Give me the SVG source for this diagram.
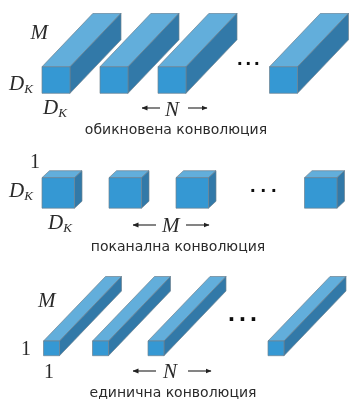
<svg xmlns="http://www.w3.org/2000/svg" width="349" height="401" viewBox="0 0 349 401">
<style>
.f{fill:#3598d3}.t{fill:#62aedb}.s{fill:#3079a8}
.f,.t,.s{stroke:#6f8290;stroke-width:.7;stroke-linejoin:round}
text{fill:#2b2b2b}
.m{font-family:"Liberation Serif",serif;font-style:italic;font-size:21px}
.k{font-family:"Liberation Serif",serif;font-style:italic;font-size:13px}
.n{font-family:"Liberation Serif",serif;font-size:20px}
.c{font-family:"DejaVu Sans",sans-serif;font-size:14px;text-anchor:middle;fill:#2a2a2a}
.d{font-family:"Liberation Sans",sans-serif;font-weight:bold;font-size:20px;letter-spacing:3px;fill:#111}
.a{stroke:#222;stroke-width:1.1;fill:none;marker-end:url(#h)}
</style>
<defs>
<filter id="soft" x="0" y="0" width="100%" height="100%"><feGaussianBlur stdDeviation="0.4"/></filter>
<marker id="h" viewBox="0 0 6 6" refX="5.500" refY="3" markerWidth="6" markerHeight="6" orient="auto" markerUnits="userSpaceOnUse"><path d="M0 .5L6 3L0 5.500Z" fill="#222"/></marker>
<g id="b1"><path class="t" d="M0 0L51-53.500H79L28 0Z"/><path class="s" d="M28 0L79-53.500V-27L28 26.500Z"/><rect class="f" width="28" height="26.500"/></g>
<g id="b2"><path class="t" d="M0 0L7.500-7H40L32.500 0Z"/><path class="s" d="M32.500 0L40-7V23.500L32.500 30.500Z"/><rect class="f" width="32.500" height="30.500"/></g>
<g id="b3"><path class="t" d="M0 0L62-64.500H78L16 0Z"/><path class="s" d="M16 0L78-64.500V-50L16 14.700Z"/><rect class="f" width="16" height="14.700"/></g>
</defs>
<g filter="url(#soft)">
<g id="row1">
<g id="r1-a"><use href="#b1" x="42" y="66.800"/></g>
<g id="r1-b"><use href="#b1" x="100" y="66.800"/></g>
<g id="r1-c"><use href="#b1" x="158" y="66.800"/></g>
<g id="r1-d"><use href="#b1" x="269.500" y="66.800"/></g>
<text class="m" x="30.500" y="38.500">M</text>
<text class="m" x="9" y="89.500">D<tspan class="k" dy="3">K</tspan></text>
<text class="m" x="43" y="114">D<tspan class="k" dy="3">K</tspan></text>
<text class="m" x="165" y="115.500">N</text>
<text class="d" x="237" y="65">...</text>
<text class="c" x="176" y="133.500">обикновена конволюция</text>
</g>
<g id="row2">
<g id="r2-a"><use href="#b2" x="42" y="177.700"/></g>
<g id="r2-b"><use href="#b2" x="109" y="177.700"/></g>
<g id="r2-c"><use href="#b2" x="176" y="177.700"/></g>
<g id="r2-d"><use href="#b2" x="304.500" y="177.700"/></g>
<text class="n" x="30" y="168">1</text>
<text class="m" x="9" y="197">D<tspan class="k" dy="3">K</tspan></text>
<text class="m" x="48" y="229">D<tspan class="k" dy="3">K</tspan></text>
<text class="m" x="162" y="232">M</text>
<text class="d" x="250" y="192" style="letter-spacing:5px">...</text>
<text class="c" x="178" y="251">поканална конволюция</text>
</g>
<g id="row3">
<g id="r3-a"><use href="#b3" x="43.500" y="341"/></g>
<g id="r3-b"><use href="#b3" x="92.500" y="341"/></g>
<g id="r3-c"><use href="#b3" x="148" y="341"/></g>
<g id="r3-d"><use href="#b3" x="268" y="341"/></g>
<text class="m" x="38" y="307">M</text>
<text class="n" x="21" y="355">1</text>
<text class="n" x="44" y="377.500">1</text>
<text class="m" x="163" y="378">N</text>
<text class="d" x="228" y="321" style="font-size:25px;letter-spacing:4px">...</text>
<text class="c" x="173" y="397">единична конволюция</text>
</g>
<g id="connectors">
<path class="a" d="M160 108H142"/><path class="a" d="M188 108H207"/>
<path class="a" d="M156 225H133"/><path class="a" d="M186 225H209"/>
<path class="a" d="M156 371H133"/><path class="a" d="M188 371H211"/>
</g>
</g>
</svg>
